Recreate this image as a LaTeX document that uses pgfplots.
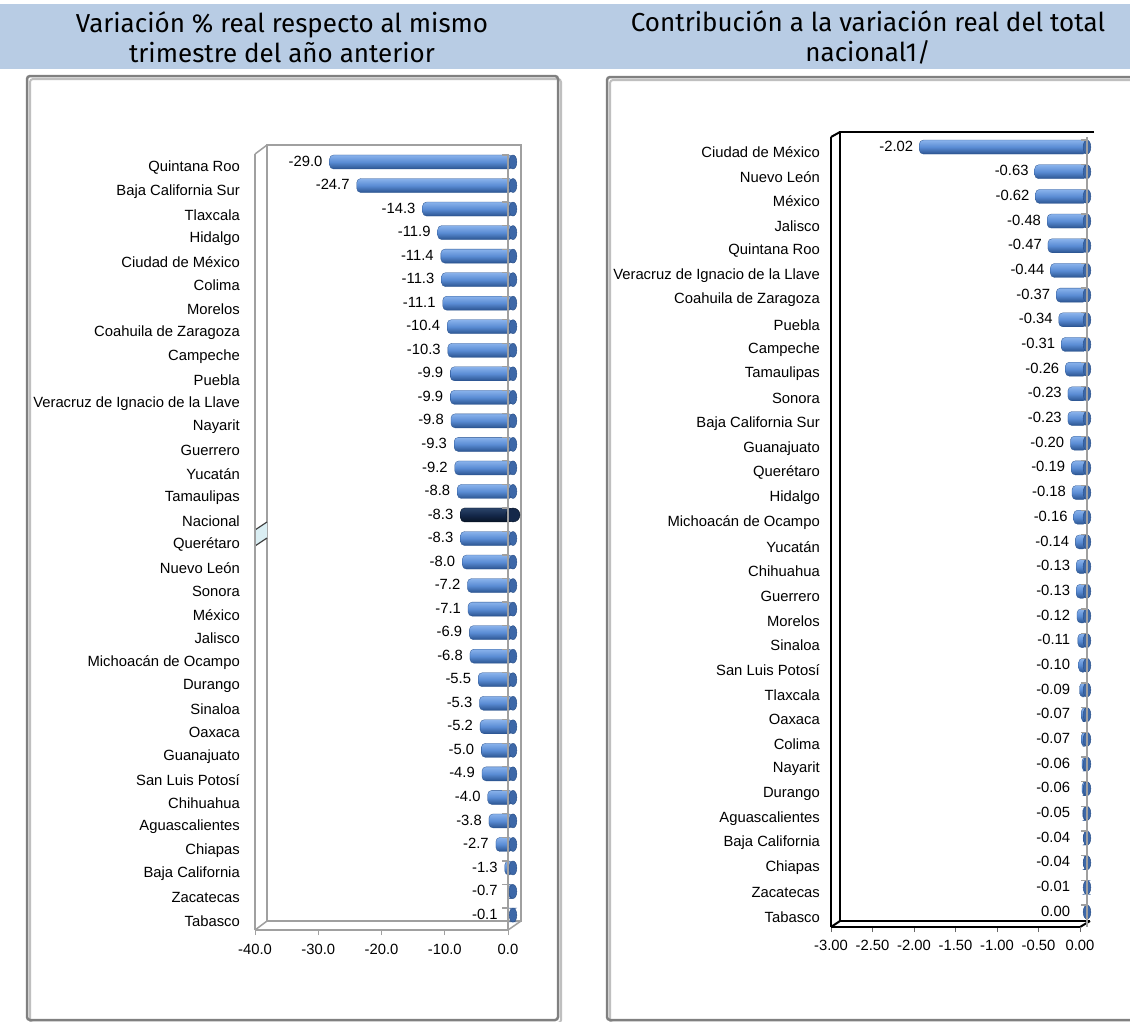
\documentclass[border=0pt]{standalone}
\usepackage{pgfplots}
\pgfplotsset{compat=1.18}
\usepackage{pgfplotstable}
\usepackage{fontspec}
\setmainfont{Liberation Sans}
\newfontfamily\titlefont{Fira Sans}
\newcommand\lab{\fontsize{14.8}{17}\selectfont}

\definecolor{hdr}{HTML}{B8CCE4}
\definecolor{framec}{HTML}{808080}
\definecolor{boxgray}{HTML}{A0A0A0}
\definecolor{barTop}{HTML}{8AB3EC}
\definecolor{barMid}{HTML}{5A8CD4}
\definecolor{barBot}{HTML}{2B5490}
\definecolor{capFill}{HTML}{3D68A8}
\definecolor{capDraw}{HTML}{2A4F86}
\definecolor{natTop}{HTML}{2B4469}
\definecolor{natMid}{HTML}{14284A}
\definecolor{natBot}{HTML}{081425}
\definecolor{wallblue}{HTML}{DAEEF3}

\pgfplotstableread{
i v c
0 -29.0 0
1 -24.7 0
2 -14.3 0
3 -11.9 0
4 -11.4 0
5 -11.3 0
6 -11.1 0
7 -10.4 0
8 -10.3 0
9 -9.9 0
10 -9.9 0
11 -9.8 0
12 -9.3 0
13 -9.2 0
14 -8.8 0
16 -8.3 0
17 -8.0 0
18 -7.2 0
19 -7.1 0
20 -6.9 0
21 -6.8 0
22 -5.5 0
23 -5.3 0
24 -5.2 0
25 -5.0 0
26 -4.9 0
27 -4.0 0
28 -3.8 0
29 -2.7 0
30 -1.3 0
31 -0.7 0
32 -0.1 0
}\leftdata

\pgfplotstableread{
i v c
15 -8.3 0
}\natdata

\pgfplotstableread{
i v c
0 -2.02 0
1 -0.63 0
2 -0.62 0
3 -0.48 0
4 -0.47 0
5 -0.44 0
6 -0.37 0
7 -0.34 0
8 -0.31 0
9 -0.26 0
10 -0.23 0
11 -0.23 0
12 -0.20 0
13 -0.19 0
14 -0.18 0
15 -0.16 0
16 -0.14 0
17 -0.13 0
18 -0.13 0
19 -0.12 0
20 -0.11 0
21 -0.10 0
22 -0.09 0
23 -0.07 0
24 -0.07 0
25 -0.06 0
26 -0.06 0
27 -0.05 0
28 -0.04 0
29 -0.04 0
30 -0.01 0
31 0.00 0
}\rightdata

\pgfplotsset{
  cylbar/.style={xbar, bar width=14pt, bar shift=0pt, draw=barBot, line width=0.3pt,
    top color=barTop, bottom color=barBot, middle color=barMid, rounded corners=4pt, forget plot},
  natbar/.style={xbar, bar width=14pt, bar shift=0pt, draw=natBot, line width=0.3pt,
    top color=natTop, bottom color=natBot, middle color=natMid, rounded corners=4pt, forget plot},
  caps/.style={only marks, mark=*, mark size=7pt,
    mark options={xscale=0.55, fill=capFill, draw=capDraw, line width=0.4pt}, forget plot},
  vlab/.style={draw=none, mark=none,
    point meta=explicit symbolic, nodes near coords,
    nodes near coords style={anchor=east, inner sep=0pt, font=\lab, text=black, yshift=1pt}, forget plot},
}

\begin{document}
\begin{tikzpicture}
\begin{scope}[x=1pt,y=-1pt]
\useasboundingbox (0,0) rectangle (1130,1021);
\fill[white] (0,0) rectangle (1130,1021);
\fill[hdr] (0,4) rectangle (1130,69);
\node[font=\titlefont\fontsize{26}{30}\selectfont, align=center, inner sep=0pt] at (282,37)
  {Variación \% real respecto al mismo\\trimestre del año anterior};
\node[font=\titlefont\fontsize{26}{30}\selectfont, align=center, inner sep=0pt] at (868,37)
  {Contribución a la variación real del total\\nacional1/};
% panel frames with soft shadow
\draw[black!25, line width=2pt, rounded corners=3pt] (30,79) rectangle (561,1023);
\draw[black!25, line width=2pt, rounded corners=3pt] (610,80) rectangle (1153,1023);
\draw[framec, line width=2.5pt, rounded corners=3pt] (27,76) rectangle (558,1020);
\draw[framec, line width=2.5pt, rounded corners=3pt] (607,77) rectangle (1150,1020);
% left 3D box (back wall and side edges)
\draw[boxgray, line width=1.5pt] (267,145) rectangle (521,921);
\draw[boxgray, line width=1.5pt] (255,154) -- (267,145);
\draw[boxgray, line width=1.5pt] (255,930) -- (267,921);
\draw[boxgray, line width=1.5pt] (508,930) -- (521,921);
\fill[wallblue] (255,530) -- (267,522) -- (267,538) -- (255,546) -- cycle;
\draw[black!75, line width=1.2pt] (255,530) -- (267,522);
\draw[black!75, line width=1.2pt] (255,546) -- (267,538);
% right 3D box
\draw[black, line width=2pt] (1094,132) -- (840,132) -- (840,921) -- (1090,921);
\draw[black, line width=2pt] (831,137) -- (840,132);
\draw[black, line width=2pt] (831,927) -- (840,921);
\draw[black, line width=2pt] (1080,927) -- (1090,921);
\end{scope}

% ---------- LEFT: front plane (x ticks) ----------
\begin{axis}[at={(381.5pt,-542pt)}, anchor=center, scale only axis,
  width=253pt, height=776pt, xmin=-40, xmax=0, ymin=0, ymax=1,
  axis x line*=bottom, axis y line*=left,
  axis line style={boxgray, line width=1.5pt, -},
  xtick={-40,-30,-20,-10,0}, ytick=\empty,
  tick align=outside, major tick length=5pt,
  x tick style={boxgray, line width=1pt},
  xticklabel style={font=\lab, inner sep=0pt, yshift=-9pt},
  /pgf/number format/.cd, fixed, fixed zerofill, precision=1, assume math mode=true]
\end{axis}

% ---------- LEFT: bar plane ----------
\begin{axis}[at={(386.5pt,-538.5pt)}, anchor=center, scale only axis,
  width=253pt, height=776.6pt, xmin=-40, xmax=0, ymin=-0.5, ymax=32.5,
  y dir=reverse, axis line style={draw=none}, clip=false,
  xtick=\empty, ytick={0,...,32}, major tick length=0pt, tick style={draw=none},
  yticklabels={Quintana Roo, Baja California Sur, Tlaxcala, Hidalgo, Ciudad de México, Colima, Morelos, Coahuila de Zaragoza, Campeche, Puebla, Veracruz de Ignacio de la Llave, Nayarit, Guerrero, Yucatán, Tamaulipas, Nacional, Querétaro, Nuevo León, Sonora, México, Jalisco, Michoacán de Ocampo, Durango, Sinaloa, Oaxaca, Guanajuato, San Luis Potosí, Chihuahua, Aguascalientes, Chiapas, Baja California, Zacatecas, Tabasco},
  yticklabel style={font=\lab, anchor=east, inner sep=0pt, xshift=-20pt, yshift=-6pt}]
\pgfplotsinvokeforeach{0,...,14,16,17,...,32}{
  \addplot[cylbar, restrict expr to domain={\thisrow{i}}{#1:#1}] table[x=v, y=i] {\leftdata};
}
\addplot[natbar] table[x=v, y=i] {\natdata};
\addplot[caps] table[x=c, y=i] {\leftdata};
\addplot[caps, mark options={fill=natMid, draw=natBot}] table[x=c, y=i] {\natdata};
\addplot[vlab, nodes near coords style={xshift=-7pt}] table[x expr={min(\thisrow{v},-1.3)}, y=i, meta=v] {\leftdata};
\addplot[vlab, nodes near coords style={xshift=-7pt}] table[x expr={min(\thisrow{v},-1.3)}, y=i, meta=v] {\natdata};
\end{axis}

% ---------- RIGHT: front plane ----------
\begin{axis}[at={(955.5pt,-532pt)}, anchor=center, scale only axis,
  width=249pt, height=790pt, xmin=-3, xmax=0, ymin=0, ymax=1,
  axis x line*=bottom, axis y line*=left,
  axis line style={black, line width=2pt, -},
  xtick={-3,-2.5,...,0}, ytick=\empty,
  tick align=outside, major tick length=5pt,
  x tick style={black!60, line width=1pt},
  xticklabel style={font=\lab, inner sep=0pt, yshift=-8pt},
  /pgf/number format/.cd, fixed, fixed zerofill, precision=2, assume math mode=true]
\end{axis}

% ---------- RIGHT: bar plane ----------
\begin{axis}[at={(962.5pt,-529.55pt)}, anchor=center, scale only axis,
  width=249pt, height=789.7pt, xmin=-3, xmax=0, ymin=-0.5, ymax=31.5,
  y dir=reverse, axis line style={draw=none}, clip=false,
  xtick=\empty, ytick={0,...,31}, major tick length=0pt, tick style={draw=none},
  yticklabels={Ciudad de México, Nuevo León, México, Jalisco, Quintana Roo, Veracruz de Ignacio de la Llave, Coahuila de Zaragoza, Puebla, Campeche, Tamaulipas, Sonora, Baja California Sur, Guanajuato, Querétaro, Hidalgo, Michoacán de Ocampo, Yucatán, Chihuahua, Guerrero, Morelos, Sinaloa, San Luis Potosí, Tlaxcala, Oaxaca, Colima, Nayarit, Durango, Aguascalientes, Baja California, Chiapas, Zacatecas, Tabasco},
  yticklabel style={font=\lab, anchor=east, inner sep=0pt, xshift=-18pt, yshift=-5pt}]
\pgfplotsinvokeforeach{0,...,30}{
  \addplot[cylbar, restrict expr to domain={\thisrow{i}}{#1:#1}] table[x=v, y=i] {\rightdata};
}
\addplot[caps] table[x=c, y=i] {\rightdata};
\addplot[vlab, nodes near coords style={xshift=-6pt}] table[x expr={min(\thisrow{v},-0.13)}, y=i, meta=v] {\rightdata};
\end{axis}

% zero lines with category ticks (drawn over bars)
\begin{scope}[x=1pt,y=-1pt]
\draw[boxgray, line width=1.5pt] (508,154) -- (508,930);
\foreach \k in {0,...,32} {\draw[boxgray, line width=1.2pt] (502,155+23.53*\k) -- (508,155+23.53*\k);}
\draw[boxgray, line width=1.5pt] (1087,137) -- (1087,927);
\foreach \k in {0,...,31} {\draw[boxgray, line width=1.2pt] (1081,140+24.68*\k) -- (1087,140+24.68*\k);}
\end{scope}
\end{tikzpicture}
\end{document}
